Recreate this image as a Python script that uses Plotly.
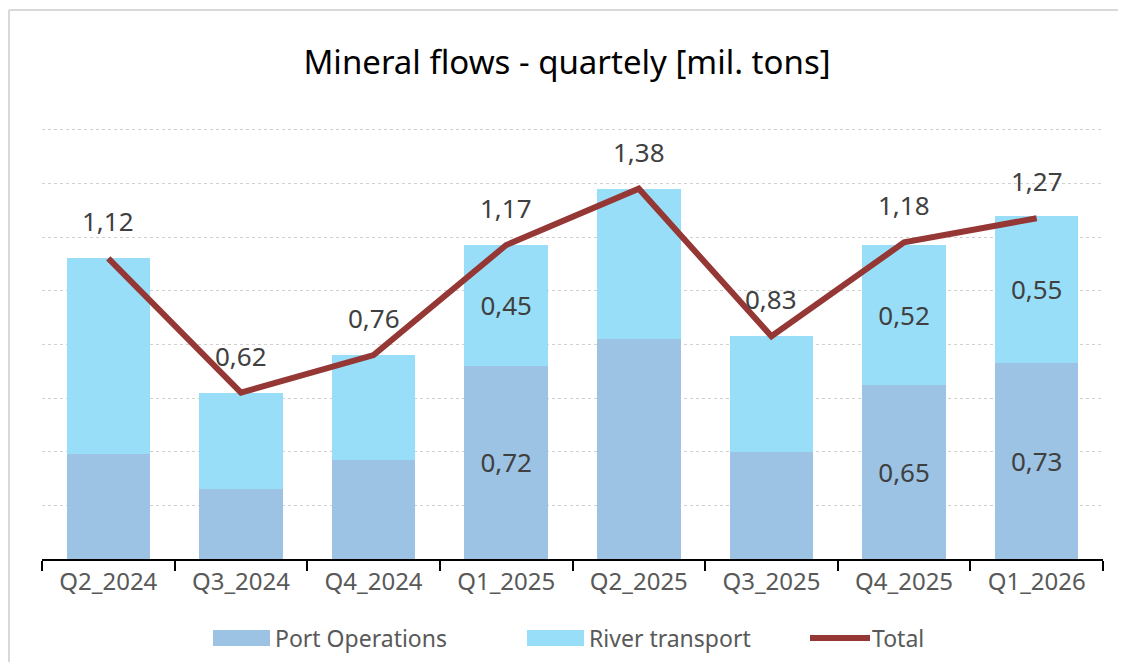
import plotly.graph_objects as go

# quarters on x axis
quarters = ["Q2_2024", "Q3_2024", "Q4_2024", "Q1_2025",
            "Q2_2025", "Q3_2025", "Q4_2025", "Q1_2026"]

# stacked components [mil. tons]
port_ops = [0.39, 0.26, 0.37, 0.72, 0.82, 0.40, 0.65, 0.73]
river = [0.73, 0.36, 0.39, 0.45, 0.56, 0.43, 0.52, 0.55]
total = [1.12, 0.62, 0.76, 1.17, 1.38, 0.83, 1.18, 1.27]

# which bars carry a value label
labelled = ["Q1_2025", "Q4_2025", "Q1_2026"]

names = ["Port Operations", "River transport", "Total"]
colors = ["#9CC3E4", "#99DEF8", "#953735"]


def fmt(v):
    return f"{v:.2f}".replace(".", ",")


port_txt = [fmt(v) if q in labelled else "" for q, v in zip(quarters, port_ops)]
river_txt = [fmt(v) if q in labelled else "" for q, v in zip(quarters, river)]

FONT = "Noto Sans"
LABEL = dict(family=FONT, size=26, color="#404040")

# figure geometry (page has an 8px body margin on every side)
W, H = 1118, 654
L, R, T, B = 34, 23, 119, 103
PW, PH = W - L - R, H - T - B


def px(x):
    return (x - L) / PW


def py(y):
    return (H - B - y) / PH


fig = go.Figure()

fig.add_trace(go.Bar(name=names[0], x=quarters, y=port_ops,
                     marker=dict(color=colors[0], line_width=0),
                     text=port_txt, textposition="inside",
                     insidetextanchor="middle", textangle=0,
                     textfont=LABEL, hoverinfo="y"))

fig.add_trace(go.Bar(name=names[1], x=quarters, y=river,
                     marker=dict(color=colors[1], line_width=0),
                     text=river_txt, textposition="inside",
                     insidetextanchor="middle", textangle=0,
                     textfont=LABEL, hoverinfo="y"))

fig.add_trace(go.Scatter(name=names[2], x=quarters, y=total, mode="lines",
                         line=dict(color=colors[2], width=6)))

# labels above the total line
for q, v in zip(quarters, total):
    fig.add_annotation(x=q, y=v, text=fmt(v), showarrow=False,
                       yshift=37, font=LABEL)

# hand-drawn legend to get Excel-like wide swatches
leg_y = 630
for name, color, x0 in zip(names, colors, [205, 519, 802]):
    if name == "Total":
        fig.add_shape(type="line", xref="paper", yref="paper",
                      x0=px(x0), x1=px(x0 + 60), y0=py(leg_y), y1=py(leg_y),
                      line=dict(color=color, width=6))
    else:
        fig.add_shape(type="rect", xref="paper", yref="paper",
                      x0=px(x0), x1=px(x0 + 57),
                      y0=py(leg_y + 8), y1=py(leg_y - 8),
                      fillcolor=color, line_width=0)
    fig.add_annotation(xref="paper", yref="paper", x=px(x0 + 60),
                       y=py(leg_y), text=name, showarrow=False,
                       xanchor="left", yanchor="middle",
                       font=dict(family=FONT, size=23, color="#595959"))

fig.update_layout(
    width=W, height=H,
    barmode="stack", bargap=0.37,
    separators=", ",
    showlegend=False,
    paper_bgcolor="white", plot_bgcolor="white",
    margin=dict(l=L, r=R, t=T, b=B),
    title=dict(text="Mineral flows - quartely [mil. tons]",
               x=0.5, xanchor="center", y=1 - 54 / H, yanchor="middle",
               font=dict(family=FONT, size=33, color="black")),
    font=dict(family=FONT),
)

fig.update_xaxes(showline=True, linecolor="black", linewidth=2,
                 ticks="outside", tickson="boundaries", ticklen=10,
                 tickcolor="black", tickwidth=2,
                 tickfont=dict(family=FONT, size=24, color="#595959"),
                 showgrid=False)
fig.update_yaxes(range=[0, 1.61], dtick=0.2, showticklabels=False,
                 showgrid=True, gridcolor="#D0D0D0", griddash="dot",
                 gridwidth=1, zeroline=False)

# chart frame: only the left and top edges are in view
frame = dict(color="#D9D9D9", width=2)
fig.add_shape(type="line", xref="paper", yref="paper",
              x0=px(1), x1=px(W), y0=py(2), y1=py(2), line=frame)
fig.add_shape(type="line", xref="paper", yref="paper",
              x0=px(1), x1=px(1), y0=py(2), y1=py(H), line=frame)

fig.write_html("out.html")
